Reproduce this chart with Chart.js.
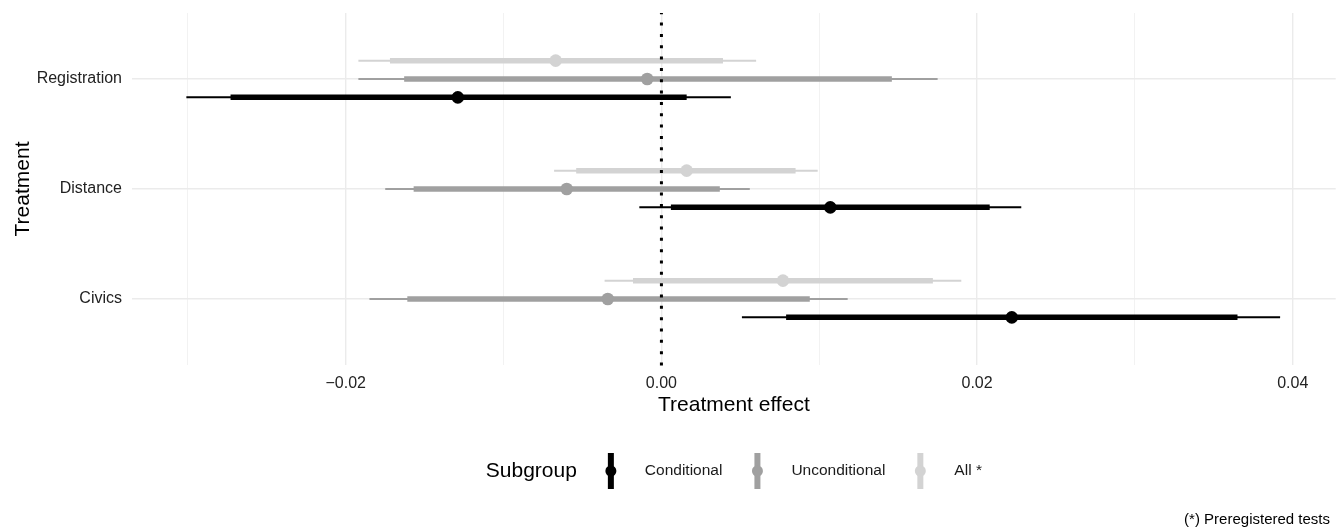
<!DOCTYPE html>
<html>
<head>
<meta charset="utf-8">
<title>Treatment effects by subgroup</title>
<script src="https://cdn.jsdelivr.net/npm/chart.js@4.4.1/dist/chart.umd.min.js"></script>
<style>
  html, body { margin: 0; padding: 0; background: #ffffff; overflow: hidden; }
  /* a few px wider than the window: Chart.js keeps a small gap on the right */
  #wrap { position: relative; width: 1342px; height: 528px; }
</style>
</head>
<body>
<div id="wrap"><canvas id="effectChart"></canvas></div>
<script>
// data (top to bottom)
const treatments = ["Registration", "Distance", "Civics"];
const subgroups = ["Conditional", "Unconditional", "All *"];

const conditionalEst = [-0.0129, 0.0107, 0.0222];
const conditionalInner = [[-0.0273, 0.0016], [0.0006, 0.0208], [0.0079, 0.0365]];
const conditionalOuter = [[-0.0301, 0.0044], [-0.0014, 0.0228], [0.0051, 0.0392]];

const unconditionalEst = [-0.0009, -0.0060, -0.0034];
const unconditionalInner = [[-0.0163, 0.0146], [-0.0157, 0.0037], [-0.0161, 0.0094]];
const unconditionalOuter = [[-0.0192, 0.0175], [-0.0175, 0.0056], [-0.0185, 0.0118]];

const allEst = [-0.0067, 0.0016, 0.0077];
const allInner = [[-0.0172, 0.0039], [-0.0054, 0.0085], [-0.0018, 0.0172]];
const allOuter = [[-0.0192, 0.0060], [-0.0068, 0.0099], [-0.0036, 0.0190]];

// axis ticks
const xTicks = [-0.02, 0, 0.02, 0.04];
const xTickLabels = ["\u22120.02", "0.00", "0.02", "0.04"];
const xMinorTicks = [-0.03, -0.01, 0.01, 0.03];

const colors = ["#000000", "#a0a0a0", "#d3d3d3"];
const FONT = "'Liberation Sans', Arial, Helvetica, sans-serif";

const groups = [
  { est: conditionalEst, inner: conditionalInner, outer: conditionalOuter, shift: -1 / 6 },
  { est: unconditionalEst, inner: unconditionalInner, outer: unconditionalOuter, shift: 0 },
  { est: allEst, inner: allInner, outer: allOuter, shift: 1 / 6 },
];

// category position on the vertical axis (Registration on top)
function rowPos(i) {
  return treatments.length - i;
}

// build datasets: one line per interval, one scatter per subgroup
const datasets = [];
groups.forEach((g, gi) => {
  datasets.push({
    label: subgroups[gi],
    type: "scatter",
    data: g.est.map((v, i) => ({ x: v, y: rowPos(i) + g.shift })),
    pointRadius: 6.3,
    pointBackgroundColor: colors[gi],
    pointBorderWidth: 0,
    order: 0,
  });
  g.inner.forEach((ci, i) => {
    datasets.push({
      label: subgroups[gi] + " inner",
      type: "scatter",
      showLine: true,
      data: ci.map((v) => ({ x: v, y: rowPos(i) + g.shift })),
      borderColor: colors[gi],
      borderWidth: 5.5,
      borderCapStyle: "butt",
      pointRadius: 0,
      order: 1,
    });
  });
  g.outer.forEach((ci, i) => {
    datasets.push({
      label: subgroups[gi] + " outer",
      type: "scatter",
      showLine: true,
      data: ci.map((v) => ({ x: v, y: rowPos(i) + g.shift })),
      borderColor: colors[gi],
      borderWidth: 2,
      borderCapStyle: "butt",
      pointRadius: 0,
      order: 2,
    });
  });
});

function isMajor(value) {
  return xTicks.findIndex((t) => Math.abs(t - value) < 1e-9);
}

// dotted zero line
const zeroLine = {
  id: "zeroLine",
  afterDatasetsDraw(chart) {
    const { ctx, chartArea, scales } = chart;
    const x = scales.x.getPixelForValue(0);
    ctx.save();
    ctx.strokeStyle = "#000000";
    ctx.lineWidth = 3;
    ctx.setLineDash([3, 8.33]);
    ctx.beginPath();
    ctx.moveTo(x, chartArea.bottom + 0.5);
    ctx.lineTo(x, chartArea.top);
    ctx.stroke();
    ctx.restore();
  },
};

// legend row + caption
const legendRow = {
  id: "legendRow",
  afterDraw(chart) {
    const { ctx, chartArea } = chart;
    const cy = 471;
    ctx.save();
    ctx.textBaseline = "middle";
    ctx.font = "21px " + FONT;
    const titleW = ctx.measureText("Subgroup").width;
    ctx.font = "15.5px " + FONT;
    const labelW = subgroups.map((s) => ctx.measureText(s).width);
    let total = titleW + 34;
    labelW.forEach((w) => (total += 34 + w));
    total += 35 * (subgroups.length - 1);
    let x = (chartArea.left + chartArea.right) / 2 - total / 2;

    ctx.fillStyle = "#000000";
    ctx.font = "21px " + FONT;
    ctx.textAlign = "left";
    ctx.fillText("Subgroup", x, cy);
    x += titleW + 34;

    subgroups.forEach((s, i) => {
      ctx.strokeStyle = colors[i];
      ctx.lineWidth = 6;
      ctx.beginPath();
      ctx.moveTo(x, cy - 18);
      ctx.lineTo(x, cy + 18);
      ctx.stroke();
      ctx.fillStyle = colors[i];
      ctx.beginPath();
      ctx.arc(x, cy, 5.5, 0, Math.PI * 2);
      ctx.fill();
      ctx.fillStyle = "#1a1a1a";
      ctx.font = "15.5px " + FONT;
      ctx.fillText(s, x + 34, cy);
      x += 34 + labelW[i] + 35;
    });

    ctx.font = "15px " + FONT;
    ctx.textAlign = "right";
    ctx.fillStyle = "#000000";
    ctx.fillText("(*) Preregistered tests", 1330, 520);
    ctx.restore();
  },
};

new Chart(document.getElementById("effectChart"), {
  type: "scatter",
  data: { datasets: datasets },
  options: {
    responsive: true,
    maintainAspectRatio: false,
    animation: false,
    layout: { padding: { top: 13, right: 0, bottom: 110, left: 0 } },
    scales: {
      x: {
        type: "linear",
        min: -0.033544,
        max: 0.042722,
        afterBuildTicks: (scale) => {
          scale.ticks = xMinorTicks.concat(xTicks).sort((a, b) => a - b).map((v) => ({ value: v }));
        },
        afterFit: (scale) => {
          scale.height = 53;
          scale.paddingLeft = 0;
          scale.paddingRight = 0;
        },
        grid: {
          drawTicks: false,
          color: (c) => (isMajor(c.tick.value) >= 0 ? "#ebebeb" : "#f2f2f2"),
          lineWidth: (c) => (isMajor(c.tick.value) >= 0 ? 1.4 : 1),
        },
        border: { display: false },
        ticks: {
          autoSkip: false,
          maxRotation: 0,
          padding: 9,
          color: "#222222",
          font: { family: FONT, size: 16 },
          callback: (value) => {
            const k = isMajor(value);
            return k >= 0 ? xTickLabels[k] : "";
          },
        },
        title: {
          display: true,
          text: "Treatment effect",
          color: "#000000",
          font: { family: FONT, size: 21 },
          padding: { top: 0, bottom: 0 },
        },
      },
      y: {
        type: "linear",
        min: 0.4,
        max: 3.6,
        afterBuildTicks: (scale) => {
          scale.ticks = treatments.map((t, i) => ({ value: rowPos(i) }));
        },
        afterFit: (scale) => {
          scale.width = 132;
          scale.paddingTop = 0;
          scale.paddingBottom = 0;
        },
        grid: { drawTicks: false, color: "#ebebeb", lineWidth: 1.4 },
        border: { display: false },
        ticks: {
          padding: 10,
          color: "#222222",
          font: { family: FONT, size: 16 },
          callback: (value) => treatments[treatments.length - Math.round(value)],
        },
        title: {
          display: true,
          text: "Treatment",
          color: "#000000",
          font: { family: FONT, size: 21 },
          padding: { top: 11, bottom: 0 },
        },
      },
    },
    plugins: {
      legend: { display: false },
      tooltip: { enabled: false },
    },
  },
  plugins: [zeroLine, legendRow],
});
</script>
</body>
</html>
